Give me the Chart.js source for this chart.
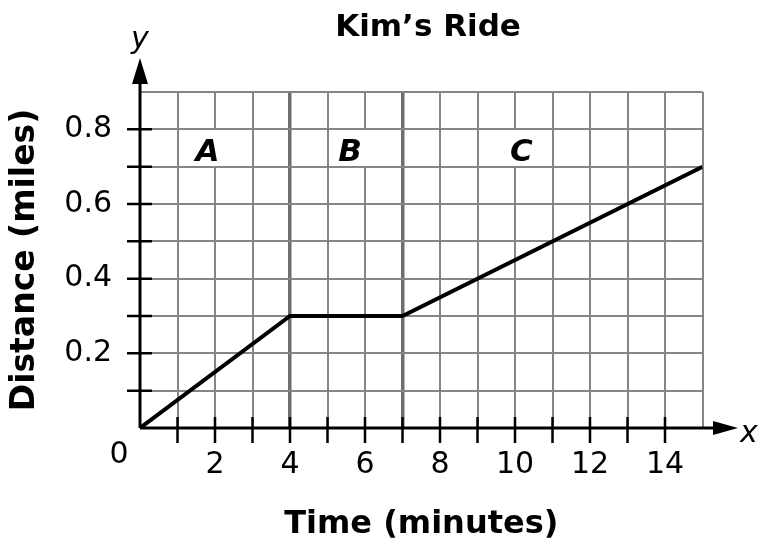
<!DOCTYPE html>
<html>
<head>
<meta charset="utf-8">
<script src="https://cdn.jsdelivr.net/npm/chart.js@4"></script>
<style>
	body { margin: 0; background: #fff; }
	#wrap { width: 762px; height: 548px; position: relative; }
</style>
</head>
<body>
<div id="wrap"><canvas id="Chart1"></canvas></div>
<script>
// data
const timeMinutes = [0, 4, 7, 15];
const distanceMiles = [0, 0.3, 0.3, 0.7];
const regionLabels = ['A', 'B', 'C'];
const regionBounds = [4, 7]; // minutes where the ride changes
const chartTitle = 'Kim\u2019s Ride';

const FONT = '"DejaVu Sans", Verdana, sans-serif';

// extra drawing: axes with arrows, tick marks, region letters, title
const annotate = {
	id: 'annotate',
	afterDatasetsDraw(chart) {
		const ctx = chart.ctx;
		const xs = chart.scales.x, ys = chart.scales.y;
		const x0 = xs.getPixelForValue(0), y0 = ys.getPixelForValue(0);
		ctx.save();
		ctx.strokeStyle = '#000';
		ctx.fillStyle = '#000';

		// axes
		ctx.lineWidth = 3;
		ctx.beginPath();
		ctx.moveTo(x0, y0); ctx.lineTo(716, y0);
		ctx.moveTo(x0, y0); ctx.lineTo(x0, 80);
		ctx.stroke();
		// arrow heads
		ctx.beginPath();
		ctx.moveTo(738, y0); ctx.lineTo(713, y0 - 7); ctx.lineTo(713, y0 + 7); ctx.closePath();
		ctx.fill();
		ctx.beginPath();
		ctx.moveTo(x0, 58); ctx.lineTo(x0 - 8, 84); ctx.lineTo(x0 + 8, 84); ctx.closePath();
		ctx.fill();

		// tick marks
		ctx.lineWidth = 2.5;
		ctx.beginPath();
		for (let t = 1; t <= 14; t++) {
			const px = xs.getPixelForValue(t);
			ctx.moveTo(px, y0 - 11); ctx.lineTo(px, y0 + 15);
		}
		for (let t = 1; t <= 8; t++) {
			const py = ys.getPixelForValue(t / 10);
			ctx.moveTo(x0 - 13, py); ctx.lineTo(x0 + 12, py);
		}
		ctx.stroke();

		// region letters in white boxes
		const letterX = [1.8, 5.6, 10.25];
		const ly = ys.getPixelForValue(0.75);
		ctx.font = 'italic bold 31px ' + FONT;
		ctx.textAlign = 'center';
		ctx.textBaseline = 'middle';
		regionLabels.forEach((lab, i) => {
			const lx = xs.getPixelForValue(letterX[i]);
			ctx.fillStyle = '#fff';
			ctx.fillRect(lx - 19, ly - 18, 39, 36);
			ctx.fillStyle = '#000';
			ctx.fillText(lab, lx - (i === 2 ? 3 : 0), ly + 5);
		});

		// origin and axis letters
		ctx.textBaseline = 'alphabetic';
		ctx.font = '30px ' + FONT;
		ctx.fillText('0', 119, 463);
		ctx.font = 'italic 30px ' + FONT;
		ctx.textAlign = 'left';
		ctx.fillText('x', 740, 442);
		ctx.textAlign = 'center';
		ctx.fillText('y', 140, 48);

		// title
		ctx.font = 'bold 31px ' + FONT;
		ctx.fillText(chartTitle, 428, 36);
		ctx.restore();
	}
};

const gridColor = ctx => {
	const v = ctx.tick ? ctx.tick.value : null;
	if (v === 0) return 'rgba(0,0,0,0)';
	return '#858585';
};

new Chart(document.getElementById('Chart1'), {
	type: 'line',
	data: {
		datasets: [{
			data: timeMinutes.map((t, i) => ({ x: t, y: distanceMiles[i] })),
			borderColor: '#000',
			borderWidth: 4,
			pointRadius: 0,
			fill: false,
			tension: 0
		}]
	},
	options: {
		responsive: true,
		maintainAspectRatio: false,
		animation: false,
		layout: { padding: { top: 92, right: 59.5, left: 0, bottom: 0 } },
		plugins: { legend: { display: false }, tooltip: { enabled: false } },
		scales: {
			x: {
				type: 'linear',
				min: 0,
				max: 15,
				border: { display: false },
				grid: {
					drawTicks: false,
					color: ctx => {
						const v = ctx.tick ? ctx.tick.value : null;
						if (regionBounds.includes(v)) return '#6e6e6e';
						return gridColor(ctx);
					},
					lineWidth: ctx => regionBounds.includes(ctx.tick ? ctx.tick.value : null) ? 3.5 : 2
				},
				ticks: {
					stepSize: 1,
					autoSkip: false,
					maxRotation: 0,
					padding: 19,
					color: '#000',
					font: { family: FONT, size: 30 },
					callback: v => (v > 0 && v % 2 === 0) ? String(v) : ''
				},
				title: {
					display: true,
					text: 'Time (minutes)',
					color: '#000',
					font: { family: FONT, size: 32, weight: 'bold' },
					padding: { top: 0, bottom: 4 }
				},
				afterFit: scale => { scale.height = 120; }
			},
			y: {
				min: 0,
				max: 0.9,
				border: { display: false },
				grid: { drawTicks: false, color: gridColor, lineWidth: 2 },
				ticks: {
					stepSize: 0.1,
					autoSkip: false,
					padding: 28,
					color: '#000',
					font: { family: FONT, size: 30 },
					callback: v => {
						const r = Math.round(v * 10);
						return (r > 0 && r % 2 === 0 && r < 9) ? (r / 10).toFixed(1) : '';
					}
				},
				title: {
					display: true,
					text: 'Distance (miles)',
					color: '#000',
					font: { family: FONT, size: 33, weight: 'bold' },
					padding: { top: 6, bottom: 0 }
				},
				afterFit: scale => { scale.width = 140; }
			}
		}
	},
	plugins: [annotate]
});
</script>
</body>
</html>
